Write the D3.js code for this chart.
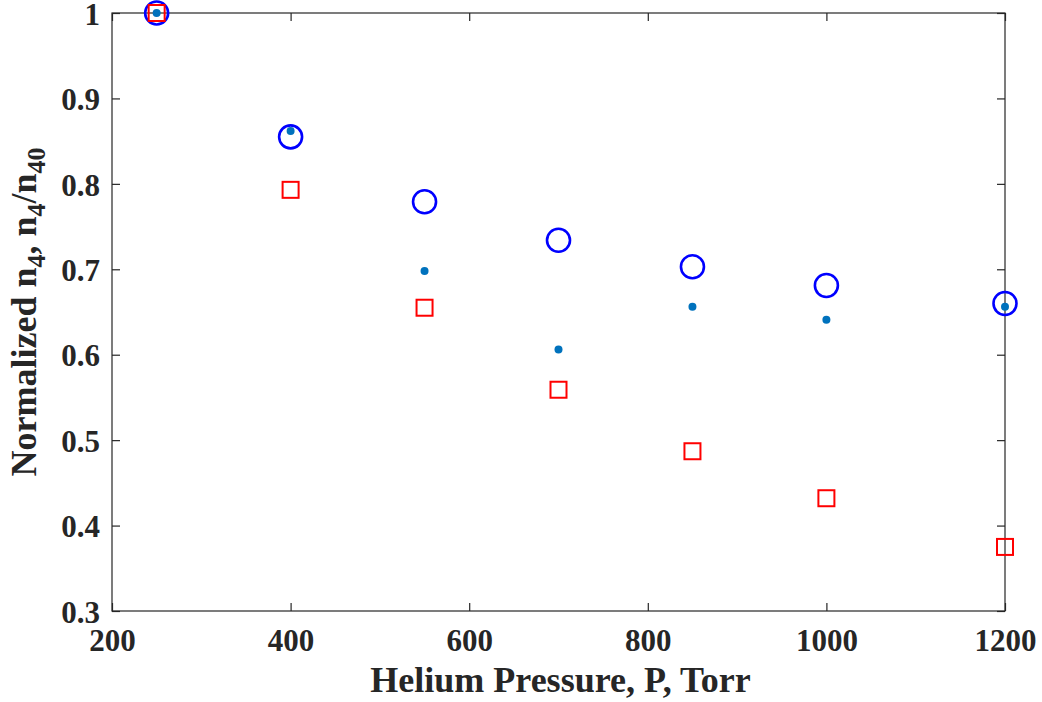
<!DOCTYPE html>
<html><head><meta charset="utf-8">
<script src="https://cdn.jsdelivr.net/npm/d3@7"></script>
<style>body{margin:0;background:#fff}</style>
</head><body>
<svg id="c" width="1042" height="702"></svg>
<script>
const pressure = [250, 400, 550, 700, 850, 1000, 1200];
const circleVals = [1.0, 0.855, 0.779, 0.734, 0.703, 0.681, 0.660];
const dotVals = [1.0, 0.862, 0.698, 0.606, 0.656, 0.641, 0.656];
const squareVals = [1.0, 0.793, 0.655, 0.559, 0.487, 0.432, 0.375];
const xTicks = [200, 400, 600, 800, 1000, 1200];
const yTicks = [0.3, 0.4, 0.5, 0.6, 0.7, 0.8, 0.9, 1];

const svg = d3.select("#c");
const L = 112, R = 1005, T = 13, B = 611;
const x = d3.scaleLinear().domain([200, 1200]).range([L, R]);
const y = d3.scaleLinear().domain([0.3, 1]).range([B, T]);
const font = "'Liberation Serif','Times New Roman',serif";
const axisCol = "#262626";

svg.append("rect").attr("x", L).attr("y", T).attr("width", R - L).attr("height", B - T)
  .attr("fill", "none").attr("stroke", axisCol).attr("stroke-width", 1.2);

const tickLen = 8;
const gx = svg.append("g").attr("transform", `translate(0,${B})`)
  .call(d3.axisBottom(x).tickValues(xTicks).tickSizeInner(-tickLen).tickSizeOuter(0).tickFormat(d3.format("d")));
const gy = svg.append("g").attr("transform", `translate(${L},0)`)
  .call(d3.axisLeft(y).tickValues(yTicks).tickSizeInner(-tickLen).tickSizeOuter(0).tickPadding(12).tickFormat(d => d === 1 ? "1" : d3.format(".1f")(d)));
const gx2 = svg.append("g").attr("transform", `translate(0,${T})`)
  .call(d3.axisTop(x).tickValues(xTicks).tickSizeInner(-tickLen).tickSizeOuter(0).tickFormat(""));
const gy2 = svg.append("g").attr("transform", `translate(${R},0)`)
  .call(d3.axisRight(y).tickValues(yTicks).tickSizeInner(-tickLen).tickSizeOuter(0).tickFormat(""));
[gx, gy, gx2, gy2].forEach(g => {
  g.select(".domain").remove();
  g.selectAll(".tick line").attr("stroke", axisCol).attr("stroke-width", 1.2);
  g.selectAll("text").attr("fill", axisCol).style("font-family", font).style("font-weight", "bold").style("font-size", "31px");
});
gx.selectAll("text").attr("dy", "0.71em").attr("y", 18);
gy.selectAll("text").attr("dy", "0.36em");

svg.append("g").selectAll("circle").data(pressure).join("circle")
  .attr("cx", d => x(d)).attr("cy", (d, i) => y(circleVals[i])).attr("r", 11.5)
  .attr("fill", "none").attr("stroke", "#0000FF").attr("stroke-width", 2.6);
const s = 16;
svg.append("g").selectAll("rect").data(pressure).join("rect")
  .attr("x", d => x(d) - s / 2).attr("y", (d, i) => y(squareVals[i]) - s / 2)
  .attr("width", s).attr("height", s)
  .attr("fill", "none").attr("stroke", "#FF0000").attr("stroke-width", 2);
svg.append("g").selectAll("circle").data(pressure).join("circle")
  .attr("cx", d => x(d)).attr("cy", (d, i) => y(dotVals[i])).attr("r", 4)
  .attr("fill", "#0072BD");

svg.append("text").attr("x", (L + R) / 2 + 2).attr("y", 692).attr("text-anchor", "middle")
  .attr("fill", axisCol).style("font-family", font).style("font-weight", "bold").style("font-size", "36px")
  .text("Helium Pressure, P, Torr");
const yl = svg.append("text").attr("transform", `translate(36,${(T + B) / 2}) rotate(-90)`)
  .attr("text-anchor", "middle").attr("fill", axisCol)
  .style("font-family", font).style("font-weight", "bold").style("font-size", "36px");
yl.append("tspan").text("Normalized n");
yl.append("tspan").attr("dy", 9).style("font-size", "26px").text("4");
yl.append("tspan").attr("dy", -9).text(", n");
yl.append("tspan").attr("dy", 9).style("font-size", "26px").text("4");
yl.append("tspan").attr("dy", -9).text("/n");
yl.append("tspan").attr("dy", 9).style("font-size", "26px").text("40");
</script>
</body></html>
